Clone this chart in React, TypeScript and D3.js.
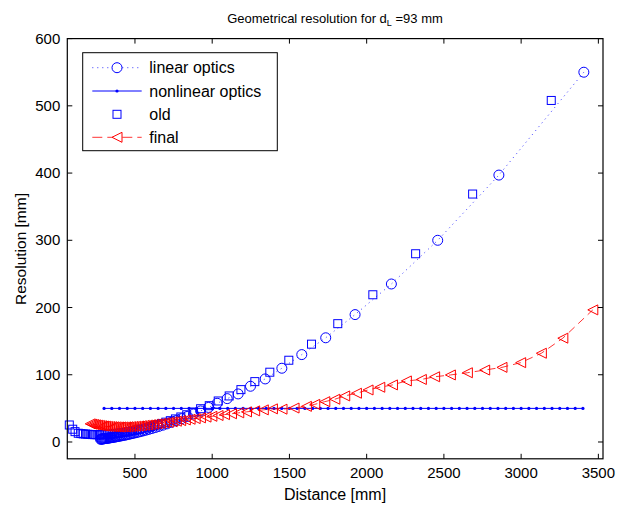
import React, { useEffect, useRef } from 'react';
import * as d3 from 'd3';

// [distance mm, resolution mm]
const linearOptics: [number, number][] = [
  [277, 4.1], [281, 4.3], [285, 4.4], [289, 4.5], [293, 4.6], [298, 4.8], [302, 4.9], [307, 5.1],
  [312, 5.3], [317, 5.4], [322, 5.6], [328, 5.8], [334, 6.0], [340, 6.2], [346, 6.5], [352, 6.7],
  [359, 7.0], [366, 7.2], [373, 7.5], [381, 7.8], [389, 8.2], [397, 8.5], [406, 8.9], [415, 9.3],
  [425, 9.8], [435, 10.2], [446, 10.7], [457, 11.3], [469, 11.9], [481, 12.5], [494, 13.2], [508, 13.9],
  [523, 14.8], [538, 15.6], [555, 16.6], [572, 17.7], [591, 18.9], [611, 20.2], [632, 21.6], [655, 23.2],
  [680, 25.0], [706, 26.9], [735, 29.2], [766, 31.7], [801, 34.6], [838, 37.9], [879, 41.7], [925, 46.2],
  [976, 51.4], [1032, 57.6], [1097, 64.5], [1168, 71.5], [1248, 82.9], [1343, 93.8], [1451, 109.7],
  [1580, 130], [1735, 155], [1925, 189.5], [2160, 235], [2460, 300], [2856, 397], [3406, 550],
];

const nonlinearX = [
  300, 350, 400, 450, 500, 550, 600, 650, 700, 750, 800, 850, 900, 950, 1000, 1050, 1100, 1150, 1200,
  1250, 1300, 1350, 1400, 1450, 1500, 1550, 1600, 1650, 1700, 1750, 1800, 1850, 1900, 1950, 2000, 2050,
  2100, 2150, 2200, 2250, 2300, 2350, 2400, 2450, 2500, 2550, 2600, 2650, 2700, 2750, 2800, 2850, 2900,
  2950, 3000, 3050, 3100, 3150, 3200, 3250, 3300, 3350, 3400,
];
const nonlinearValue = 50;

const oldData: [number, number][] = [
  [75, 25.3], [97, 19], [112, 15.4], [133, 13], [150, 12.5], [165, 12], [180, 11.8], [195, 11.5],
  [210, 11.2], [225, 11], [240, 10.9], [255, 10.8], [270, 10.8], [285, 10.9], [300, 11.1], [313, 11.3],
  [326, 11.6], [339, 11.8], [352, 12.1], [366, 12.4], [380, 12.8], [394, 13.2], [408, 13.6], [423, 14.1],
  [438, 14.6], [454, 15.3], [471, 16.1], [484, 16.7], [498, 17.3], [513, 18.1], [528, 18.8], [545, 19.7],
  [563, 20.7], [582, 21.8], [602, 23.0], [624, 24.4], [647, 25.9], [672, 27.6], [700, 29.5], [729, 31.7],
  [762, 34.3], [797, 37.2], [835, 40.5], [878, 44.5], [925, 49.5], [981, 54], [1039, 61], [1110, 68.5],
  [1186, 77.9], [1276, 89.8], [1373, 103.8], [1496, 121.6], [1643, 145.5], [1813, 176], [2040, 219],
  [2317, 280], [2686, 368.8], [3195, 508],
];

const finalData: [number, number][] = [
  [210, 27], [222, 26.5], [234, 26], [246, 25.5], [258, 25], [270, 24.6], [283, 24.2], [296, 23.8],
  [309, 23.5], [322, 23.2], [336, 23], [350, 22.8], [364, 22.6], [378, 22.5], [393, 22.4], [408, 22.4],
  [423, 22.4], [439, 22.5], [455, 22.7], [471, 22.9], [488, 23.2], [505, 23.5], [523, 23.9], [541, 24.3],
  [560, 24.8], [580, 25.3], [600, 25.8], [621, 26.4], [643, 27], [666, 27.7], [690, 28.4], [715, 29.2],
  [741, 30], [768, 30.9], [796, 31.8], [826, 32.8], [857, 33.8], [890, 34.8], [924, 35.9], [960, 37],
  [998, 38.2], [1038, 39.4], [1080, 40.7], [1125, 42], [1172, 43.4], [1222, 44.8], [1275, 46.3],
  [1331, 47.8], [1390, 49.3], [1452, 48.8], [1530, 50.5], [1610, 53], [1664, 56], [1729, 60],
  [1794, 63.6], [1858, 68.5], [1934, 72.5], [2009, 77.4], [2085, 81.4], [2167, 84.9], [2257, 90.8],
  [2354, 93], [2440, 97], [2542, 99.7], [2652, 103], [2764, 107], [2876, 111], [2997, 118], [3131, 132],
  [3270, 154.4], [3464, 196.5],
];

const xTicks = [500, 1000, 1500, 2000, 2500, 3000, 3500];
const yTicks = [0, 100, 200, 300, 400, 500, 600];
const legendLabels = ['linear optics', 'nonlinear optics', 'old', 'final'];

const BLUE = '#0000ff';
const RED = '#ff0000';
const FONT = '"Liberation Sans", Arial, sans-serif';

const App = () => {
  const svgRef = useRef<SVGSVGElement>(null);

  useEffect(() => {
    document.body.style.margin = '0';
    const svg = d3.select(svgRef.current);
    svg.selectAll('*').remove();

    const left = 67.3, right = 603, top = 38.6, bottom = 458.8;
    const x = d3.scaleLinear().domain([62, 3530]).range([left, right]);
    const y = d3.scaleLinear().domain([-25, 600]).range([bottom, top]);

    svg.append('rect').attr('width', 624).attr('height', 505).attr('fill', '#fff');

    const plot = svg.append('g');

    const tri = (cx: number, cy: number, r: number) =>
      `M${cx - r},${cy}L${cx + r},${cy - r}L${cx + r},${cy + r}Z`;

    const line = d3.line<[number, number]>().x(d => x(d[0])).y(d => y(d[1]));

    // linear optics
    plot.append('path').datum(linearOptics).attr('d', line).attr('fill', 'none')
      .attr('stroke', BLUE).attr('stroke-width', 0.8).attr('stroke-dasharray', '1,4');
    plot.append('g').selectAll('circle').data(linearOptics).enter().append('circle')
      .attr('cx', d => x(d[0])).attr('cy', d => y(d[1])).attr('r', 5)
      .attr('fill', 'none').attr('stroke', BLUE).attr('stroke-width', 1);

    // nonlinear optics
    const nonlinear: [number, number][] = nonlinearX.map(v => [v, nonlinearValue]);
    plot.append('path').datum(nonlinear).attr('d', line).attr('fill', 'none')
      .attr('stroke', BLUE).attr('stroke-width', 1);
    plot.append('g').selectAll('circle').data(nonlinear).enter().append('circle')
      .attr('cx', d => x(d[0])).attr('cy', d => y(d[1])).attr('r', 1.6).attr('fill', BLUE);

    // old
    plot.append('g').selectAll('rect').data(oldData).enter().append('rect')
      .attr('x', d => x(d[0]) - 4).attr('y', d => y(d[1]) - 4).attr('width', 8).attr('height', 8)
      .attr('fill', 'none').attr('stroke', BLUE).attr('stroke-width', 1);

    // final
    plot.append('path').datum(finalData).attr('d', line).attr('fill', 'none')
      .attr('stroke', RED).attr('stroke-width', 0.8).attr('stroke-dasharray', '8,5');
    plot.append('g').selectAll('path').data(finalData).enter().append('path')
      .attr('d', d => tri(x(d[0]), y(d[1]), 5))
      .attr('fill', 'none').attr('stroke', RED).attr('stroke-width', 1);

    // ticks
    const axes = svg.append('g').attr('stroke', '#000').attr('stroke-width', 1);
    xTicks.forEach(t => {
      axes.append('line').attr('x1', x(t)).attr('x2', x(t)).attr('y1', bottom).attr('y2', bottom - 5);
      axes.append('line').attr('x1', x(t)).attr('x2', x(t)).attr('y1', top).attr('y2', top + 5);
    });
    yTicks.forEach(t => {
      axes.append('line').attr('y1', y(t)).attr('y2', y(t)).attr('x1', left).attr('x2', left + 5);
      axes.append('line').attr('y1', y(t)).attr('y2', y(t)).attr('x1', right).attr('x2', right - 5);
    });
    svg.append('rect').attr('x', left).attr('y', top).attr('width', right - left).attr('height', bottom - top)
      .attr('fill', 'none').attr('stroke', '#000').attr('stroke-width', 1.2);

    const text = svg.append('g').attr('font-family', FONT).attr('fill', '#000');
    xTicks.forEach(t => {
      text.append('text').attr('x', x(t)).attr('y', 478).attr('font-size', 15)
        .attr('text-anchor', 'middle').text(t);
    });
    yTicks.forEach(t => {
      text.append('text').attr('x', left - 7).attr('y', y(t) + 5).attr('font-size', 15)
        .attr('text-anchor', 'end').text(t);
    });
    text.append('text').attr('x', 335).attr('y', 500).attr('font-size', 16)
      .attr('text-anchor', 'middle').text('Distance [mm]');
    text.append('text').attr('transform', 'translate(26,249) rotate(-90)').attr('font-size', 15.5)
      .attr('text-anchor', 'middle').text('Resolution [mm]');
    const title = text.append('text').attr('x', 335).attr('y', 23).attr('font-size', 13)
      .attr('text-anchor', 'middle');
    title.append('tspan').text('Geometrical resolution for d');
    title.append('tspan').attr('font-size', 9).attr('dy', 3).text('L');
    title.append('tspan').attr('dy', -3).text(' =93 mm');

    // legend
    const lg = svg.append('g');
    lg.append('rect').attr('x', 82.7).attr('y', 52.7).attr('width', 194.6).attr('height', 98)
      .attr('fill', '#fff').attr('stroke', '#000').attr('stroke-width', 1);
    const rowY = [67.7, 91, 114.3, 137.3];
    const lx1 = 92.3, lx2 = 141.7, mx = 117;
    lg.append('line').attr('x1', lx1).attr('x2', lx2).attr('y1', rowY[0]).attr('y2', rowY[0])
      .attr('stroke', BLUE).attr('stroke-width', 0.8).attr('stroke-dasharray', '1,4');
    lg.append('circle').attr('cx', mx).attr('cy', rowY[0]).attr('r', 5).attr('fill', '#fff').attr('stroke', BLUE);
    lg.append('line').attr('x1', lx1).attr('x2', lx2).attr('y1', rowY[1]).attr('y2', rowY[1])
      .attr('stroke', BLUE).attr('stroke-width', 1);
    lg.append('circle').attr('cx', mx).attr('cy', rowY[1]).attr('r', 1.6).attr('fill', BLUE);
    lg.append('rect').attr('x', mx - 4).attr('y', rowY[2] - 4).attr('width', 8).attr('height', 8)
      .attr('fill', 'none').attr('stroke', BLUE);
    lg.append('line').attr('x1', lx1).attr('x2', lx2).attr('y1', rowY[3]).attr('y2', rowY[3])
      .attr('stroke', RED).attr('stroke-width', 0.8).attr('stroke-dasharray', '10,5');
    lg.append('path').attr('d', tri(mx, rowY[3], 5)).attr('fill', '#fff').attr('stroke', RED);
    legendLabels.forEach((l, i) => {
      lg.append('text').attr('x', 149.3).attr('y', rowY[i] + 5.5).attr('font-family', FONT)
        .attr('font-size', 16).text(l);
    });
  }, []);

  return <svg ref={svgRef} width={624} height={505} style={{ display: 'block' }} />;
};

export default App;
